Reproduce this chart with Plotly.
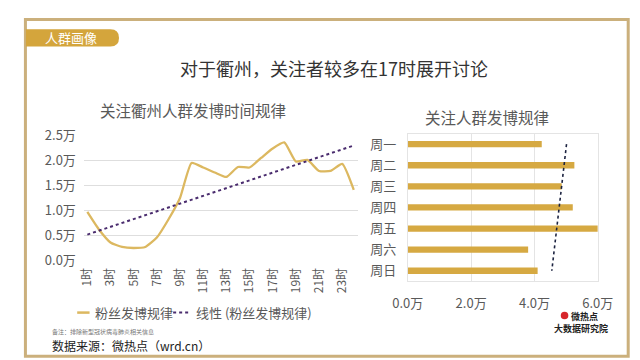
import numpy as np
import plotly.graph_objects as go

# ---------------- data ----------------
hours = [f"{h}时" for h in range(1, 25)]
hour_values = [0.97, 0.62, 0.36, 0.27, 0.25, 0.27, 0.46, 0.82, 1.25, 1.95, 1.86, 1.76,
               1.67, 1.87, 1.86, 2.05, 2.24, 2.36, 1.98, 2.01, 1.79, 1.79, 1.93, 1.41]
hour_tick_labels = [f"{h}时" for h in range(1, 25, 2)]
y_tick_vals = [0, 0.5, 1.0, 1.5, 2.0, 2.5]
y_tick_text = ["0.0万", "0.5万", "1.0万", "1.5万", "2.0万", "2.5万"]

weekdays = ["周一", "周二", "周三", "周四", "周五", "周六", "周日"]
weekday_values = [4.23, 5.26, 4.86, 5.21, 6.0, 3.80, 4.10]
x2_tick_vals = [0, 2, 4, 6]
x2_tick_text = ["0.0万", "2.0万", "4.0万", "6.0万"]

# linear trend lines (least squares, like Excel "线性" trendline)
idx_h = np.arange(len(hour_values))
ph = np.polyfit(idx_h, hour_values, 1)
hour_trend = np.polyval(ph, idx_h)
idx_w = np.arange(len(weekday_values))
pw = np.polyfit(idx_w, weekday_values, 1)
weekday_trend = np.polyval(pw, idx_w)

# ---------------- helpers ----------------
W, H = 640, 360
def X(px):
    return px / W
def Y(py):
    return 1 - py / H

FONT = "Noto Sans CJK SC"
GOLD_LINE = "#dcb860"
GOLD_BAR = "#d6a942"
GRAY = "#595959"

fig = go.Figure()

fig.add_trace(go.Scatter(x=hours, y=hour_values, mode="lines",
                         line=dict(color=GOLD_LINE, width=2.3, shape="spline", smoothing=0.5),
                         xaxis="x", yaxis="y", showlegend=False))
fig.add_trace(go.Scatter(x=hours, y=hour_trend, mode="lines",
                         line=dict(color="#4a2c6e", width=2, dash="dot"),
                         xaxis="x", yaxis="y", showlegend=False))

fig.add_trace(go.Bar(x=weekday_values, y=weekdays, orientation="h",
                     marker=dict(color=GOLD_BAR, line=dict(width=0)),
                     width=0.3, xaxis="x2", yaxis="y2", showlegend=False))
fig.add_trace(go.Scatter(x=weekday_trend, y=weekdays, mode="lines",
                         line=dict(color="#1c2340", width=1.6, dash="dot"),
                         xaxis="x2", yaxis="y2", showlegend=False))

tick_font = dict(family=FONT, size=13, color=GRAY)

fig.update_layout(
    width=W, height=H,
    margin=dict(l=0, r=0, t=0, b=0),
    paper_bgcolor="white", plot_bgcolor="white",
    font=dict(family=FONT),
    xaxis=dict(domain=[X(63), X(352)], type="category",
               range=[-0.3, 23.4],
               tickmode="array", tickvals=hour_tick_labels, ticktext=hour_tick_labels,
               tickangle=-90, tickfont=dict(family=FONT, size=12, color=GRAY),
               showgrid=False, showline=False, zeroline=False, ticks="",
               ticklabelstandoff=4),
    yaxis=dict(domain=[Y(256), Y(124)], range=[0, 2.5],
               tickmode="array", tickvals=y_tick_vals, ticktext=y_tick_text,
               tickfont=tick_font, showgrid=True, gridcolor="#dedede", gridwidth=1,
               zeroline=False, showline=False, ticks="", ticklabelstandoff=7),
    xaxis2=dict(domain=[X(404), X(604)], range=[0, 6], anchor="y2",
                tickmode="array", tickvals=x2_tick_vals, ticktext=x2_tick_text,
                tickfont=tick_font, showgrid=True, gridcolor="#e4e4e4",
                zeroline=False, showline=True, mirror=True, linecolor="#e4e4e4",
                ticks="", ticklabelstandoff=10),
    yaxis2=dict(domain=[Y(278), Y(122)], anchor="x2", type="category",
                categoryorder="array", categoryarray=weekdays, autorange="reversed",
                tickfont=tick_font, showgrid=False, zeroline=False,
                showline=True, mirror=True, linecolor="#e4e4e4",
                ticks="", ticklabelstandoff=8),
    bargap=0.6,
)

shapes = []
# outer frame
shapes.append(dict(type="rect", xref="paper", yref="paper",
                   x0=X(1.5), x1=X(636), y0=Y(357), y1=Y(1.5),
                   line=dict(color="#cbb07c", width=3), fillcolor="rgba(0,0,0,0)"))
# header tab with rounded right end
p = (f"M {X(2)},{Y(12)} L {X(91)},{Y(12)} "
     f"Q {X(100)},{Y(12)} {X(100)},{Y(21)} "
     f"Q {X(100)},{Y(30)} {X(91)},{Y(30)} L {X(2)},{Y(30)} Z")
shapes.append(dict(type="path", xref="paper", yref="paper", path=p,
                   fillcolor="#d4a53c", line=dict(width=0)))
# manual legend symbols
shapes.append(dict(type="line", xref="paper", yref="paper",
                   x0=X(56), x1=X(69), y0=Y(311), y1=Y(311),
                   line=dict(color=GOLD_LINE, width=2.5)))
shapes.append(dict(type="line", xref="paper", yref="paper",
                   x0=X(157), x1=X(174), y0=Y(311), y1=Y(311),
                   line=dict(color="#4a2c6e", width=2, dash="dot")))
# logo icon
shapes.append(dict(type="circle", xref="paper", yref="paper",
                   x0=X(565), x1=X(573), y0=Y(318), y1=Y(310),
                   fillcolor="#d7262b", line=dict(width=0)))
fig.update_layout(shapes=shapes)

ann = []
def text(x, y, s, size, color, anchor="left", bold=False):
    ann.append(dict(x=X(x), y=Y(y), xref="paper", yref="paper", text=f"<b>{s}</b>" if bold else s,
                    showarrow=False, xanchor=anchor, yanchor="middle",
                    font=dict(family=FONT, size=size, color=color)))

text(20, 21, "人群画像", 13, "white")
text(326, 53, "对于衢州，关注者较多在17时展开讨论", 18, "#333333", "center")
text(178, 97, "关注衢州人群发博时间规律", 15.5, GRAY, "center")
text(487, 104, "关注人群发博规律", 15.5, GRAY, "center")
text(73, 311, "粉丝发博规律", 13, GRAY)
text(179, 311, "线性 (粉丝发博规律)", 13, GRAY)
text(27, 331, "备注：排除新型冠状病毒肺炎相关信息", 6, "#777777")
text(27, 346, "数据来源：微热点（wrd.cn）", 12, "#222222")
text(574, 315, "微热点", 9, "#222222", bold=True)
text(586, 328, "大数据研究院", 9, "#222222", "center", bold=True)
fig.update_layout(annotations=ann)

fig.write_html("out.html")
